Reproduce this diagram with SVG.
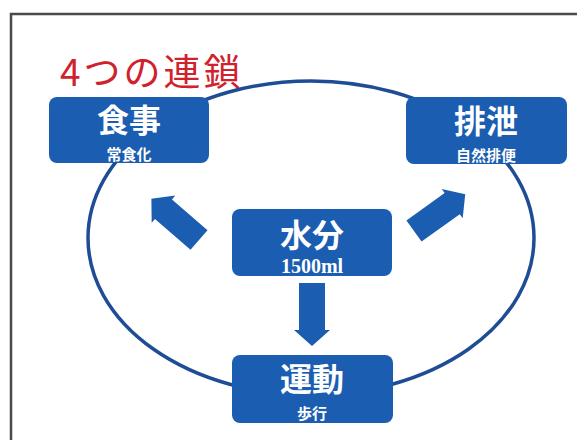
<svg xmlns="http://www.w3.org/2000/svg" width="577" height="440" viewBox="0 0 577 440">
<style>
.box{fill:#1b5db0}
.arrow{fill:#1b5db0}
.loop{fill:none;stroke:#1e4d95;stroke-width:3.5}
.t{font-family:"Noto Sans CJK JP","Noto Sans CJK SC",sans-serif;fill:#fff;text-anchor:middle;font-weight:bold}
.big{font-size:32px}
.small{font-size:15px}
.num{font-family:"Liberation Serif",serif;font-weight:bold;font-size:20px;fill:#fff;text-anchor:middle}
.title{font-family:"Noto Sans CJK JP",sans-serif;font-size:37px;font-weight:normal;fill:#d0222c;letter-spacing:3px}
</style>
<defs>
<path id="blk" d="M0,-13 H47 V-18 L63,0 L47,18 V13 H0 Z"/>
</defs>
<rect width="577" height="440" fill="#fff"/>
<path d="M11,440 V14 H577" fill="none" stroke="#4a4a4a" stroke-width="2.5"/>
<text class="title" x="60" y="86">4つの連鎖</text>
<g id="connectors">
<ellipse class="loop" cx="311" cy="238" rx="223" ry="157"/>
<use href="#blk" class="arrow" transform="translate(199,240) rotate(-139.1)"/>
<use href="#blk" class="arrow" transform="translate(414,231) rotate(-35.6)"/>
<use href="#blk" class="arrow" transform="translate(312,283) rotate(90)"/>
</g>
<g id="shokuji">
<rect class="box" x="49" y="97" width="160" height="66" rx="8"/>
<text class="t big" x="129" y="132">食事</text>
<text class="t small" x="129" y="160">常食化</text>
</g>
<g id="haisetsu">
<rect class="box" x="406" y="97" width="161" height="67" rx="8"/>
<text class="t big" x="486" y="133">排泄</text>
<text class="t small" x="486" y="161">自然排便</text>
</g>
<g id="suibun">
<rect class="box" x="232" y="209" width="160" height="67" rx="8"/>
<text class="t big" x="312" y="247">水分</text>
<text class="num" x="312" y="273">1500ml</text>
</g>
<g id="undou">
<rect class="box" x="232" y="355" width="161" height="68" rx="8"/>
<text class="t big" x="312" y="391">運動</text>
<text class="t small" x="312" y="419">歩行</text>
</g>
</svg>
